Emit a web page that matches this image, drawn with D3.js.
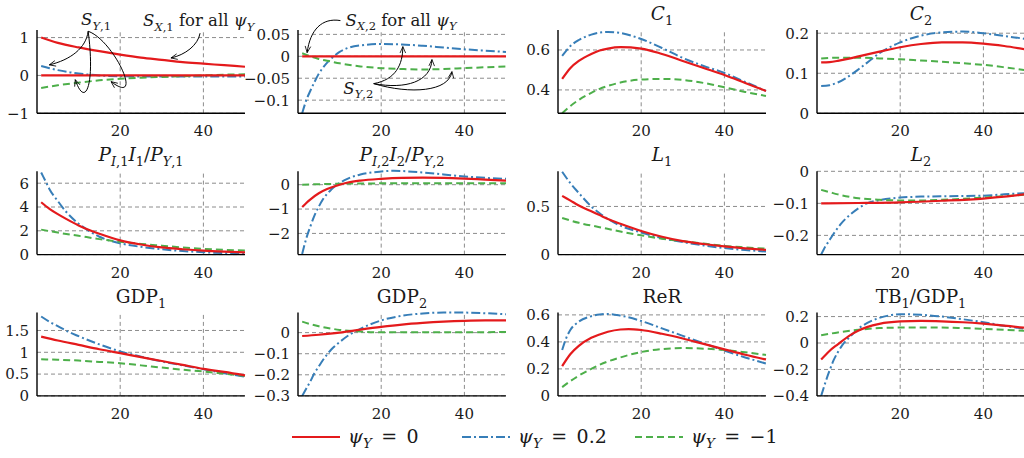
<!DOCTYPE html>
<html>
<head>
<meta charset="utf-8">
<script src="https://cdn.jsdelivr.net/npm/d3@7"></script>
<style>
  body { margin: 0; background: #fff; }
  text { font-family: "DejaVu Serif", serif; fill: #1a1a1a; }
</style>
</head>
<body>
<svg id="chart" width="1024" height="458"></svg>
<script>
// ---- data: [period, value] ----
const sRed0   = [[1,0],[50,0]];
const sRedX1  = [[1,1.0],[5,0.86],[10,0.74],[15,0.64],[20,0.55],[25,0.47],[30,0.41],[35,0.35],[40,0.31],[45,0.27],[50,0.23]];
const sBlue1  = [[1,0.25],[3,0.19],[5,0.14],[8,0.08],[10,0.05],[15,0.0],[20,-0.02],[30,-0.03],[40,-0.03],[50,-0.03]];
const sGreen1 = [[1,-0.33],[5,-0.26],[10,-0.19],[15,-0.13],[20,-0.09],[25,-0.06],[30,-0.04],[35,-0.02],[40,0.0],[45,0.02],[50,0.03]];

const sBlue2  = [[1,-0.13],[2,-0.10],[3,-0.078],[4,-0.058],[5,-0.04],[6,-0.026],[8,-0.005],[10,0.01],[12,0.019],[15,0.025],[20,0.028],[25,0.027],[30,0.024],[35,0.02],[40,0.016],[45,0.013],[50,0.01]];
const sGreen2 = [[1,0.007],[3,0.0],[5,-0.006],[8,-0.012],[10,-0.016],[15,-0.023],[20,-0.027],[25,-0.029],[30,-0.03],[35,-0.029],[40,-0.027],[45,-0.025],[50,-0.023]];

const c1Red   = [[1,0.455],[3,0.51],[5,0.545],[8,0.58],[10,0.597],[12,0.607],[15,0.614],[20,0.607],[25,0.58],[30,0.545],[35,0.51],[40,0.475],[45,0.435],[50,0.395]];
const c1Blue  = [[1,0.57],[3,0.62],[5,0.65],[8,0.677],[10,0.687],[12,0.69],[15,0.685],[20,0.655],[25,0.61],[30,0.56],[35,0.52],[40,0.485],[45,0.44],[50,0.395]];
const c1Green = [[1,0.283],[3,0.32],[5,0.35],[8,0.385],[10,0.405],[12,0.42],[15,0.437],[20,0.452],[25,0.455],[30,0.45],[35,0.435],[40,0.413],[45,0.39],[50,0.37]];

const c2Red   = [[1,0.127],[3,0.128],[5,0.131],[8,0.137],[10,0.142],[15,0.154],[20,0.165],[25,0.173],[30,0.177],[35,0.177],[40,0.174],[45,0.168],[50,0.16]];
const c2Blue  = [[1,0.068],[3,0.07],[5,0.077],[8,0.095],[10,0.11],[12,0.126],[15,0.15],[20,0.177],[25,0.194],[30,0.202],[35,0.204],[40,0.2],[45,0.193],[50,0.186]];
const c2Green = [[1,0.137],[5,0.139],[10,0.139],[15,0.137],[20,0.135],[25,0.132],[30,0.129],[35,0.125],[40,0.121],[45,0.115],[50,0.108]];

const i1Red   = [[1,4.4],[3,3.85],[5,3.4],[7,3.0],[10,2.45],[13,2.0],[15,1.75],[20,1.2],[25,0.85],[30,0.6],[35,0.45],[40,0.33],[45,0.25],[50,0.19]];
const i1Blue  = [[1,6.9],[2,6.2],[3,5.5],[5,4.5],[7,3.6],[10,2.6],[12,2.1],[15,1.5],[20,0.95],[25,0.65],[30,0.45],[35,0.3],[40,0.2],[45,0.12],[50,0.07]];
const i1Green = [[1,2.1],[5,1.85],[10,1.58],[15,1.3],[20,1.08],[25,0.9],[30,0.75],[35,0.6],[40,0.48],[45,0.4],[50,0.35]];

const i2Red   = [[1,-0.92],[2,-0.75],[3,-0.6],[5,-0.35],[7,-0.18],[10,0.0],[12,0.09],[15,0.17],[20,0.24],[25,0.28],[30,0.29],[35,0.28],[40,0.25],[45,0.21],[50,0.17]];
const i2Blue  = [[1,-2.85],[2,-2.2],[3,-1.7],[4,-1.25],[5,-0.9],[6,-0.6],[8,-0.2],[10,0.07],[12,0.25],[15,0.42],[20,0.54],[23,0.57],[25,0.56],[30,0.5],[35,0.42],[40,0.34],[45,0.28],[50,0.24]];
const i2Green = [[1,0.0],[5,0.02],[10,0.04],[15,0.05],[20,0.055],[30,0.06],[40,0.06],[50,0.06]];

const l1Red   = [[1,0.61],[3,0.56],[5,0.51],[8,0.45],[10,0.41],[12,0.37],[15,0.32],[20,0.245],[25,0.185],[30,0.14],[35,0.11],[40,0.085],[45,0.065],[50,0.05]];
const l1Blue  = [[1,0.86],[3,0.74],[5,0.64],[8,0.5],[10,0.43],[12,0.37],[15,0.3],[20,0.23],[25,0.17],[30,0.13],[35,0.095],[40,0.068],[45,0.048],[50,0.032]];
const l1Green = [[1,0.38],[5,0.33],[10,0.285],[15,0.24],[20,0.2],[25,0.165],[30,0.14],[35,0.115],[40,0.09],[45,0.075],[50,0.062]];

const l2Red   = [[1,-0.1],[10,-0.099],[20,-0.097],[30,-0.092],[40,-0.085],[50,-0.072]];
const l2Blue  = [[1,-0.26],[2,-0.235],[3,-0.215],[4,-0.195],[6,-0.16],[8,-0.135],[10,-0.115],[12,-0.1],[15,-0.09],[20,-0.082],[25,-0.079],[30,-0.078],[35,-0.077],[40,-0.076],[45,-0.072],[50,-0.068]];
const l2Green = [[1,-0.058],[3,-0.065],[5,-0.072],[8,-0.08],[10,-0.084],[15,-0.089],[20,-0.091],[25,-0.091],[30,-0.089],[35,-0.086],[40,-0.082],[45,-0.078],[50,-0.073]];

const g1Red   = [[1,1.36],[5,1.27],[10,1.17],[15,1.07],[20,0.98],[25,0.89],[30,0.8],[35,0.71],[40,0.62],[45,0.55],[50,0.47]];
const g1Blue  = [[1,1.82],[3,1.7],[5,1.6],[8,1.45],[10,1.37],[15,1.18],[20,1.02],[25,0.9],[30,0.79],[35,0.7],[40,0.61],[45,0.52],[50,0.44]];
const g1Green = [[1,0.84],[5,0.83],[10,0.81],[15,0.78],[20,0.75],[25,0.7],[30,0.65],[35,0.6],[40,0.56],[45,0.51],[50,0.46]];

const g2Red   = [[1,-0.016],[5,-0.01],[10,0.0],[15,0.014],[20,0.027],[25,0.038],[30,0.046],[35,0.052],[40,0.056],[45,0.058],[50,0.058]];
const g2Blue  = [[1,-0.3],[2,-0.265],[3,-0.23],[4,-0.19],[5,-0.16],[6,-0.13],[8,-0.08],[10,-0.045],[12,-0.015],[15,0.018],[20,0.058],[25,0.08],[30,0.091],[35,0.095],[40,0.095],[45,0.092],[50,0.087]];
const g2Green = [[1,0.052],[3,0.04],[5,0.03],[8,0.019],[10,0.013],[15,0.005],[20,0.002],[30,0.002],[40,0.002],[50,0.003]];

const rerRed   = [[1,0.22],[3,0.31],[5,0.37],[8,0.43],[10,0.455],[12,0.475],[15,0.492],[17,0.495],[20,0.488],[25,0.46],[30,0.425],[35,0.385],[40,0.345],[45,0.305],[50,0.27]];
const rerBlue  = [[1,0.34],[2,0.43],[3,0.49],[5,0.55],[8,0.59],[10,0.603],[12,0.607],[15,0.595],[20,0.555],[25,0.5],[30,0.445],[35,0.39],[40,0.335],[45,0.285],[50,0.24]];
const rerGreen = [[1,0.065],[3,0.11],[5,0.15],[8,0.2],[10,0.23],[12,0.255],[15,0.285],[20,0.325],[25,0.347],[30,0.354],[35,0.35],[40,0.34],[45,0.323],[50,0.303]];

const tbRed   = [[1,-0.125],[3,-0.06],[5,-0.01],[8,0.06],[10,0.095],[12,0.12],[15,0.145],[20,0.163],[25,0.167],[30,0.164],[35,0.157],[40,0.146],[45,0.132],[50,0.115]];
const tbBlue  = [[1,-0.4],[2,-0.3],[3,-0.21],[4,-0.13],[5,-0.07],[6,-0.02],[8,0.05],[10,0.11],[12,0.15],[15,0.19],[18,0.212],[20,0.218],[25,0.213],[30,0.2],[35,0.18],[40,0.157],[45,0.13],[50,0.107]];
const tbGreen = [[1,0.058],[5,0.08],[10,0.1],[15,0.113],[20,0.117],[25,0.118],[30,0.117],[35,0.113],[40,0.107],[45,0.1],[50,0.093]];

const xTicks = [20, 40];
const legendLabels = ["0", "0.2", "\u22121"];

// title pieces: [text, flags] ; i = italic, s = subscript
const titles = [
  null, null,
  [["C","i"],["1","s"]],
  [["C","i"],["2","s"]],
  [["P","i"],["I","is"],[",1","s"],["I","i"],["1","s"],["/",""],["P","i"],["Y","is"],[",1","s"]],
  [["P","i"],["I","is"],[",2","s"],["I","i"],["2","s"],["/",""],["P","i"],["Y","is"],[",2","s"]],
  [["L","i"],["1","s"]],
  [["L","i"],["2","s"]],
  [["GDP",""],["1","s"]],
  [["GDP",""],["2","s"]],
  [["ReR",""]],
  [["TB",""],["1","s"],["/GDP",""],["1","s"]]
];
const yDomains = [[-1,1.2],[-0.13,0.06],[0.283,0.7],[0,0.208],[0,7],[-2.87,0.55],[0,0.865],[-0.26,0],[0,1.91],[-0.3,0.095],[0,0.617],[-0.4,0.23]];
const yTicks = [[-1,0,1],[-0.1,-0.05,0,0.05],[0.4,0.6],[0,0.1,0.2],[0,2,4,6],[-2,-1,0],[0,0.5],[-0.2,-0.1,0],[0,0.5,1,1.5],[-0.3,-0.2,-0.1,0],[0,0.2,0.4,0.6],[-0.4,-0.2,0,0.2]];
const series = [
  [[sRed0, sRedX1], [sBlue1], [sGreen1]],
  [[sRed0], [sBlue2], [sGreen2]],
  [[c1Red], [c1Blue], [c1Green]],
  [[c2Red], [c2Blue], [c2Green]],
  [[i1Red], [i1Blue], [i1Green]],
  [[i2Red], [i2Blue], [i2Green]],
  [[l1Red], [l1Blue], [l1Green]],
  [[l2Red], [l2Blue], [l2Green]],
  [[g1Red], [g1Blue], [g1Green]],
  [[g2Red], [g2Blue], [g2Green]],
  [[rerRed], [rerBlue], [rerGreen]],
  [[tbRed], [tbBlue], [tbGreen]]
];

// annotations for the first two panels, in data coordinates
const annLabels = [
  {panel: 0, at: [14.2, 1.33], anchor: "middle", parts: [["S","i"],["Y","is"],[",1","s"]]},
  {panel: 0, at: [25.5, 1.30], anchor: "start", parts: [["S","i"],["X","is"],[",1","s"],[" for all ",""],["\u03c8","i"],["Y","is"]]},
  {panel: 1, at: [11.4, 0.070], anchor: "start", parts: [["S","i"],["X","is"],[",2","s"],[" for all ",""],["\u03c8","i"],["Y","is"]]},
  {panel: 1, at: [10.9, -0.085], anchor: "start", parts: [["S","i"],["Y","is"],[",2","s"]]}
];
const annArrows = [
  {panel: 0, pts: [[39.2,1.115],[38.7,0.80],[35.6,0.54],[32.2,0.462]]},
  {panel: 0, pts: [[12.3,1.167],[11.8,0.72],[8.0,0.41],[2.95,0.279]]},
  {panel: 0, pts: [[12.3,1.167],[14.0,-0.243],[11.6,-0.90],[9.2,-0.112]]},
  {panel: 0, pts: [[12.3,1.167],[18.5,0.93],[26.0,-0.846],[17.8,-0.164]]},
  {panel: 1, pts: [[10.2,0.0815],[5.8,0.0884],[2.9,0.061],[2.2,0.0084]]},
  {panel: 1, pts: [[18.2,-0.0623],[23.5,-0.0532],[25.2,-0.019],[25.2,0.0221]]},
  {panel: 1, pts: [[18.2,-0.0623],[25.9,-0.076],[32.0,-0.0578],[32.2,-0.0075]]},
  {panel: 1, pts: [[18.2,-0.0623],[27.1,-0.0874],[36.3,-0.0806],[37.0,-0.035]]}
];

// ---- layout & style ----
const colors = ["#e41a1c", "#377eb8", "#4daf4a"];
const dashes = [null, "9,3,2,3", "7,4"];
const widths = [2.2, 2, 2];
const plotW = 208, plotH = 83.3;
const colLeft = [37, 298, 558, 817];
const rowTop = [30, 171.3, 312.6];

const svg = d3.select("#chart");
svg.append("rect").attr("width", 1024).attr("height", 458).attr("fill", "#fff");

svg.append("defs").append("marker")
  .attr("id", "arr").attr("viewBox", "0 0 10 10")
  .attr("refX", 9).attr("refY", 5)
  .attr("markerWidth", 8).attr("markerHeight", 8)
  .attr("orient", "auto")
  .append("path").attr("d", "M1,1.5 L9,5 L1,8.5")
  .attr("fill", "none").attr("stroke", "#000").attr("stroke-width", 1);

function rich(sel, parts, size) {
  const t = sel.append("text").style("font-size", size + "px");
  let sub = false;
  parts.forEach(([s, f]) => {
    const isSub = f.includes("s");
    const sp = t.append("tspan").text(s);
    if (f.includes("i")) sp.style("font-style", "italic");
    if (isSub) sp.style("font-size", (size * 0.7) + "px");
    if (isSub && !sub) sp.attr("dy", size * 0.28);
    if (!isSub && sub) sp.attr("dy", -size * 0.28);
    sub = isSub;
  });
  return t;
}

const fmt = d => (d < 0 ? "\u2212" : "") + String(+Math.abs(d).toFixed(3));

const scales = [];
series.forEach((ser, k) => {
  const col = k % 4, row = Math.floor(k / 4);
  const x = d3.scaleLinear().domain([0, 50]).range([colLeft[col], colLeft[col] + plotW]);
  const y = d3.scaleLinear().domain(yDomains[k]).range([rowTop[row] + plotH, rowTop[row]]);
  scales.push({x, y});
  const g = svg.append("g");

  // dashed grid
  g.selectAll(".gx").data(xTicks).join("line")
    .attr("x1", d => x(d)).attr("x2", d => x(d))
    .attr("y1", y.range()[0]).attr("y2", y.range()[1])
    .attr("stroke", "#8c8c8c").attr("stroke-width", 1).attr("stroke-dasharray", "4,3");
  g.selectAll(".gy").data(yTicks[k]).join("line")
    .attr("x1", x.range()[0]).attr("x2", x.range()[1])
    .attr("y1", d => y(d)).attr("y2", d => y(d))
    .attr("stroke", "#8c8c8c").attr("stroke-width", 1).attr("stroke-dasharray", "4,3");

  // series
  const line = d3.line().x(d => x(d[0])).y(d => y(d[1])).curve(d3.curveMonotoneX);
  [1, 2, 0].forEach(s => {
    ser[s].forEach(arr => {
      g.append("path").datum(arr).attr("d", line)
        .attr("fill", "none").attr("stroke", colors[s])
        .attr("stroke-width", widths[s])
        .attr("stroke-dasharray", dashes[s]);
    });
  });

  // axes lines
  g.append("line").attr("x1", x.range()[0]).attr("x2", x.range()[0])
    .attr("y1", y.range()[0]).attr("y2", y.range()[1])
    .attr("stroke", "#000").attr("stroke-width", 1.4);
  g.append("line").attr("x1", x.range()[0]).attr("x2", x.range()[1])
    .attr("y1", y.range()[0]).attr("y2", y.range()[0])
    .attr("stroke", "#000").attr("stroke-width", 1.4);

  // tick labels
  g.selectAll(".ty").data(yTicks[k]).join("text")
    .attr("x", x.range()[0] - 8).attr("y", d => y(d)).attr("dy", "0.36em")
    .attr("text-anchor", "end").style("font-size", "15px").text(fmt);
  g.selectAll(".tx").data(xTicks).join("text")
    .attr("x", d => x(d)).attr("y", y.range()[0] + 23)
    .attr("text-anchor", "middle").style("font-size", "15px").text(d => d);

  // title
  if (titles[k]) {
    rich(g, titles[k], 18.5)
      .attr("x", (x.range()[0] + x.range()[1]) / 2)
      .attr("y", rowTop[row] - 10)
      .attr("text-anchor", "middle");
  }
});

// annotations
annLabels.forEach(a => {
  const {x, y} = scales[a.panel];
  rich(svg, a.parts, 16.5).attr("x", x(a.at[0])).attr("y", y(a.at[1])).attr("text-anchor", a.anchor);
});
annArrows.forEach(a => {
  const {x, y} = scales[a.panel];
  const p = a.pts.map(d => [x(d[0]), y(d[1])]);
  const path = d3.path();
  path.moveTo(p[0][0], p[0][1]);
  path.bezierCurveTo(p[1][0], p[1][1], p[2][0], p[2][1], p[3][0], p[3][1]);
  svg.append("path").attr("d", path.toString())
    .attr("fill", "none").attr("stroke", "#000").attr("stroke-width", 1)
    .attr("marker-end", "url(#arr)");
});

// legend
const legX = [292, 462, 635];
const leg = svg.append("g");
legendLabels.forEach((lab, i) => {
  leg.append("line").attr("x1", legX[i]).attr("x2", legX[i] + 48)
    .attr("y1", 437).attr("y2", 437)
    .attr("stroke", colors[i]).attr("stroke-width", widths[i])
    .attr("stroke-dasharray", dashes[i]);
  rich(leg, [["\u03c8","i"],["Y","is"],["\u2002=\u2002" + lab,""]], 19)
    .attr("x", legX[i] + 56).attr("y", 443);
});
</script>
</body>
</html>
